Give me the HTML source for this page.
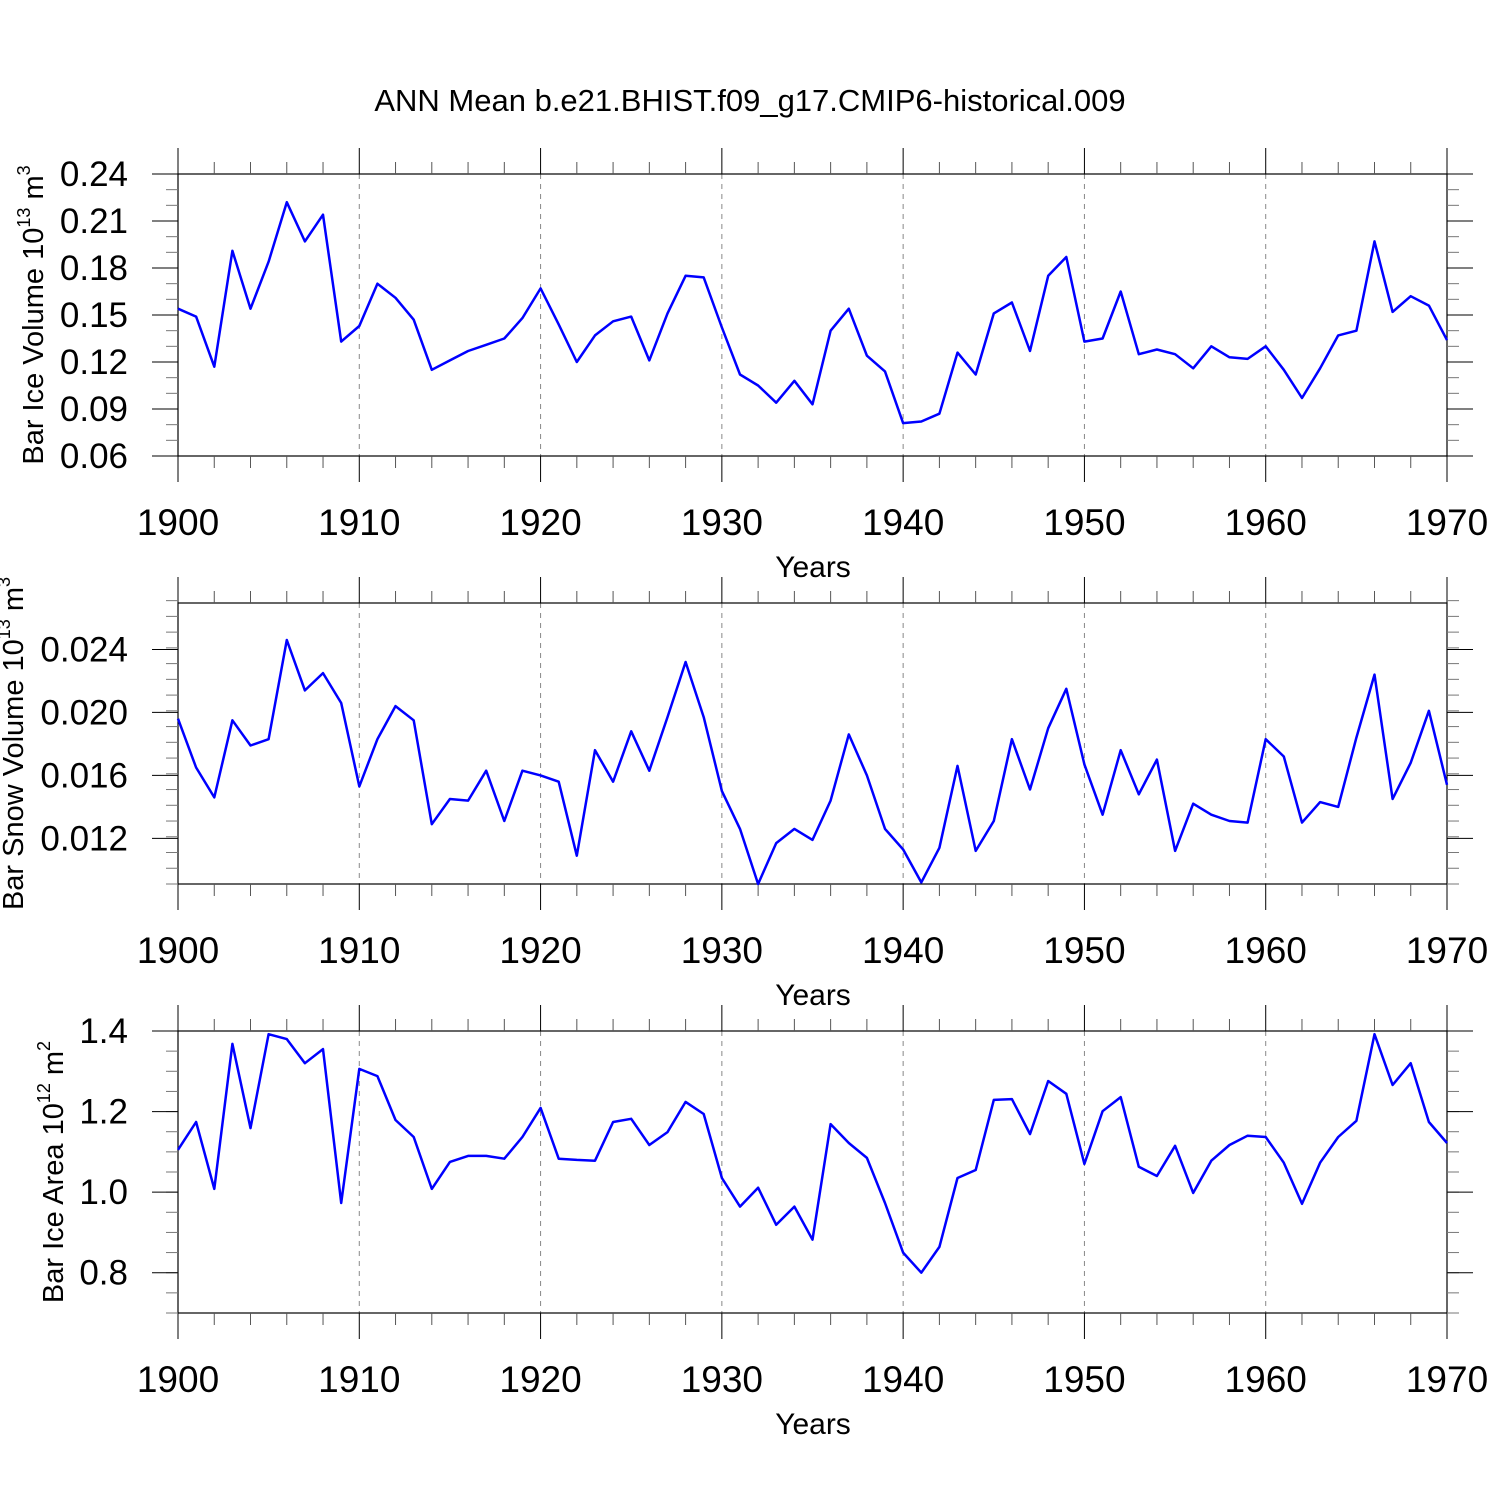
<!DOCTYPE html>
<html><head><meta charset="utf-8"><style>
html,body{margin:0;padding:0;background:#fff}
svg{display:block;font-family:"Liberation Sans",sans-serif}
</style></head><body>
<svg id="chart" width="1500" height="1500" viewBox="0 0 1500 1500">
<text x="750" y="111" font-size="31" text-anchor="middle">ANN Mean b.e21.BHIST.f09_g17.CMIP6-historical.009</text>
</svg>
<script>
const years = [];
for (let y = 1900; y <= 1970; y++) years.push(y);
const iceVolume = [0.154,0.149,0.117,0.191,0.154,0.184,0.222,0.197,0.214,0.133,0.143,0.170,0.161,0.147,0.115,0.121,0.127,0.131,0.135,0.148,0.167,0.144,0.120,0.137,0.146,0.149,0.121,0.151,0.175,0.174,0.142,0.112,0.105,0.094,0.108,0.093,0.140,0.154,0.124,0.114,0.081,0.082,0.087,0.126,0.112,0.151,0.158,0.127,0.175,0.187,0.133,0.135,0.165,0.125,0.128,0.125,0.116,0.130,0.123,0.122,0.130,0.115,0.097,0.116,0.137,0.140,0.197,0.152,0.162,0.156,0.134];
const snowVolume = [0.0196,0.0165,0.0146,0.0195,0.0179,0.0183,0.0246,0.0214,0.0225,0.0206,0.0153,0.0183,0.0204,0.0195,0.0129,0.0145,0.0144,0.0163,0.0131,0.0163,0.0160,0.0156,0.0109,0.0176,0.0156,0.0188,0.0163,0.0197,0.0232,0.0197,0.0150,0.0126,0.0091,0.0117,0.0126,0.0119,0.0144,0.0186,0.0160,0.0126,0.0113,0.0092,0.0114,0.0166,0.0112,0.0131,0.0183,0.0151,0.0190,0.0215,0.0167,0.0135,0.0176,0.0148,0.0170,0.0112,0.0142,0.0135,0.0131,0.0130,0.0183,0.0172,0.0130,0.0143,0.0140,0.0184,0.0224,0.0145,0.0168,0.0201,0.0154];
const iceArea = [1.105,1.174,1.008,1.368,1.159,1.392,1.380,1.320,1.355,0.973,1.306,1.288,1.179,1.137,1.008,1.075,1.090,1.090,1.083,1.137,1.209,1.083,1.080,1.078,1.174,1.182,1.117,1.149,1.224,1.194,1.035,0.964,1.011,0.919,0.964,0.882,1.169,1.122,1.085,0.973,0.850,0.800,0.864,1.035,1.055,1.229,1.231,1.144,1.276,1.244,1.070,1.201,1.236,1.063,1.040,1.115,0.998,1.078,1.117,1.140,1.137,1.073,0.971,1.073,1.137,1.177,1.392,1.266,1.320,1.174,1.122];
const xTicks = [1900,1910,1920,1930,1940,1950,1960,1970];
const ticks1 = [0.06,0.09,0.12,0.15,0.18,0.21,0.24];
const ticks2 = [0.012,0.016,0.020,0.024];
const ticks3 = [0.8,1.0,1.2,1.4];

const svg = document.getElementById('chart');
const NS = 'http://www.w3.org/2000/svg';
function mk(tag, attrs, parent) {
  const e = document.createElementNS(NS, tag);
  for (const k in attrs) e.setAttribute(k, attrs[k]);
  (parent || svg).appendChild(e);
  return e;
}
const X0 = 178, X1 = 1447;
const xs = v => X0 + (v - 1900) / 70 * (X1 - X0);

function panel(name, top, bot, ymin, ymax, ticks, dec, minorStep, data, titleParts, titleX) {
  const g = mk('g', {});
  
  
  const ys = v => bot - (v - ymin) / (ymax - ymin) * (bot - top);
  for (let yr = 1910; yr <= 1960; yr += 10) {
    const l = mk('line', {x1: xs(yr), x2: xs(yr), y1: top, y2: bot, stroke: '#888', 'stroke-width': 1, 'stroke-dasharray': '5,5'}, g);
    
    
  }
  const fr = mk('rect', {x: X0, y: top, width: X1 - X0, height: bot - top, fill: 'none', stroke: '#000', 'stroke-width': 1.2}, g);
  
  
  for (let yr = 1900; yr <= 1970; yr += 2) {
    const major = yr % 10 === 0;
    const L = major ? 26 : 12;
    const c = major ? '#000' : '#555';
    mk('line', {x1: xs(yr), x2: xs(yr), y1: top - L, y2: top, stroke: c, 'stroke-width': 1}, g);
    mk('line', {x1: xs(yr), x2: xs(yr), y1: bot, y2: bot + L, stroke: c, 'stroke-width': 1}, g);
  }
  xTicks.forEach(t => {
    const tx = mk('text', {x: xs(t), y: bot + 79, 'font-size': 37, 'text-anchor': 'middle'}, g);
    tx.textContent = t;
    
    
  });
  const xt = mk('text', {x: 813, y: bot + 121, 'font-size': 30, 'text-anchor': 'middle'}, g);
  xt.textContent = 'Years';
  
  
  const nMin = Math.round((ymax - ymin) / minorStep);
  for (let i = 0; i <= nMin; i++) {
    const y = ys(ymin + i * minorStep);
    mk('line', {x1: X0 - 12, x2: X0, y1: y, y2: y, stroke: '#777', 'stroke-width': 1}, g);
    mk('line', {x1: X1, x2: X1 + 12, y1: y, y2: y, stroke: '#777', 'stroke-width': 1}, g);
  }
  ticks.forEach(t => {
    const y = ys(t);
    mk('line', {x1: X0 - 26, x2: X0, y1: y, y2: y, stroke: '#000', 'stroke-width': 1}, g);
    mk('line', {x1: X1, x2: X1 + 26, y1: y, y2: y, stroke: '#000', 'stroke-width': 1}, g);
    const tx = mk('text', {x: 128, y: y + 12, 'font-size': 35, 'text-anchor': 'end'}, g);
    tx.textContent = t.toFixed(dec);
    
    
  });
  const cy = (top + bot) / 2;
  const yt = mk('text', {x: 0, y: 0, 'font-size': 29, 'text-anchor': 'middle', transform: `translate(${titleX},${cy}) rotate(-90)`}, g);
  
  
  const a = mk('tspan', {}, yt); a.textContent = titleParts[0];
  const b = mk('tspan', {dy: -13, 'font-size': 18}, yt); b.textContent = titleParts[1];
  const c = mk('tspan', {dy: 13}, yt); c.textContent = ' m';
  const d = mk('tspan', {dy: -13, 'font-size': 18}, yt); d.textContent = titleParts[2];
  const pts = data.map((v, i) => xs(years[i]).toFixed(1) + ',' + ys(v).toFixed(1)).join(' ');
  const pl = mk('polyline', {points: pts, fill: 'none', stroke: '#0000ff', 'stroke-width': 2.5, 'stroke-linejoin': 'round'}, g);
  
  
}
panel('ice-volume', 174, 456, 0.06, 0.24, ticks1, 2, 0.01, iceVolume, ['Bar Ice Volume 10', '13', '3'], 43);
panel('snow-volume', 603, 884, 0.0091, 0.02695, ticks2, 3, 0.001, snowVolume, ['Bar Snow Volume 10', '13', '3'], 23);
panel('ice-area', 1031, 1313, 0.7, 1.4, ticks3, 1, 0.05, iceArea, ['Bar Ice Area 10', '12', '2'], 63);
</script>
</body></html>
